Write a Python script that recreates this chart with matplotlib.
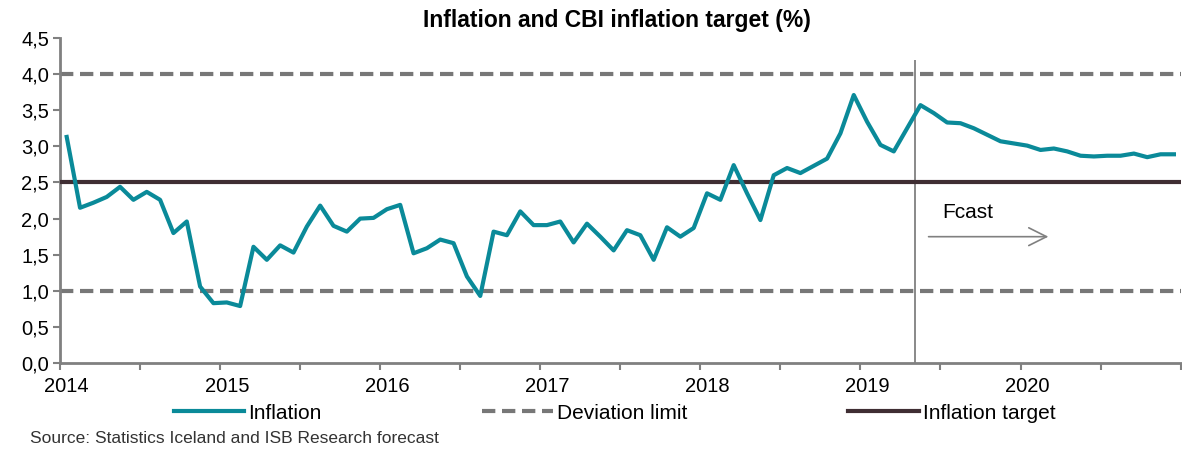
import matplotlib.pyplot as plt
from matplotlib.ticker import FuncFormatter

plt.rcParams['font.family'] = ['Liberation Sans', 'DejaVu Sans']

# monthly 12-month inflation, Jan 2014 - Dec 2020 (forecast from May 2019)
inflation = [
    3.13, 2.15, 2.22, 2.30, 2.44, 2.26, 2.37, 2.26, 1.80, 1.96, 1.06, 0.83,
    0.84, 0.79, 1.61, 1.43, 1.63, 1.53, 1.89, 2.18, 1.90, 1.82, 2.00, 2.01,
    2.13, 2.19, 1.52, 1.59, 1.71, 1.66, 1.20, 0.93, 1.82, 1.77, 2.10, 1.91,
    1.91, 1.96, 1.67, 1.93, 1.75, 1.56, 1.84, 1.77, 1.43, 1.88, 1.75, 1.87,
    2.35, 2.26, 2.74, 2.35, 1.98, 2.60, 2.70, 2.63, 2.73, 2.83, 3.18, 3.71,
    3.34, 3.02, 2.93, 3.25, 3.57, 3.46, 3.33, 3.32, 3.25, 3.16, 3.07, 3.04,
    3.01, 2.95, 2.97, 2.93, 2.87, 2.86, 2.87, 2.87, 2.90, 2.85, 2.89, 2.89,
]
target = 2.5
limits = [1.0, 4.0]
years = ["2014", "2015", "2016", "2017", "2018", "2019", "2020"]
fcast_start = 63.6  # just before May 2019

months = list(range(len(inflation)))

fig = plt.figure(figsize=(11.82, 4.5), dpi=100)
ax = fig.add_axes([0.0508, 0.193, 0.948, 0.7227])

teal = "#0a8a99"
grey = "#777777"
dark = "#3f2e33"

ax.plot(months, inflation, color=teal, lw=3, label="Inflation", zorder=4,
        solid_joinstyle="round")
for i, lim in enumerate(limits):
    ax.axhline(lim, color=grey, lw=3, ls=(0, (3.2, 1.6)),
               label="Deviation limit" if i == 0 else None, zorder=2)
ax.axhline(target, color=dark, lw=3, label="Inflation target", zorder=3)

ax.vlines(fcast_start, 0, 4.2, color="#808080", lw=1.3, zorder=1)
ax.annotate("", xy=(73.8, 1.75), xytext=(64.4, 1.75),
            arrowprops=dict(arrowstyle="->", color="#808080", lw=1.2,
                            mutation_scale=32))
ax.text(65.6, 2.09, "Fcast", fontsize=15, va="center", ha="left")

ax.set_xlim(-0.5, len(inflation) - 0.5)
ax.set_ylim(0, 4.5)
ax.set_yticks([i * 0.5 for i in range(10)])
ax.yaxis.set_major_formatter(FuncFormatter(lambda v, p: f"{v:.1f}".replace(".", ",")))

ax.set_xticks([k * 6 - 0.5 for k in range(15)], minor=False)
ax.set_xticklabels(["" for _ in range(15)])
for k, y in enumerate(years):
    ax.text(k * 12, -0.33, y, ha="center", va="center", fontsize=14.5)

ax.tick_params(axis="both", direction="out", length=5, width=1.5, color="#808080",
               labelsize=14.5)
ax.tick_params(axis="y", pad=3)
for s in ["top", "right"]:
    ax.spines[s].set_visible(False)
for s in ["left", "bottom"]:
    ax.spines[s].set_color("#808080")
    ax.spines[s].set_linewidth(2)

fig.text(0.522, 0.955, "Inflation and CBI inflation target (%)", ha="center",
         va="center", fontsize=16.5, fontweight="bold")

fig.legend(loc="center", bbox_to_anchor=(0.52, 0.082), ncol=3, frameon=False,
           fontsize=15, handlelength=3.4, handletextpad=0.2, columnspacing=7.7)

fig.text(0.025, 0.026, "Source: Statistics Iceland and ISB Research forecast",
         fontsize=12.5, color="#333333", va="center")

fig.savefig("out.png", dpi=100)
